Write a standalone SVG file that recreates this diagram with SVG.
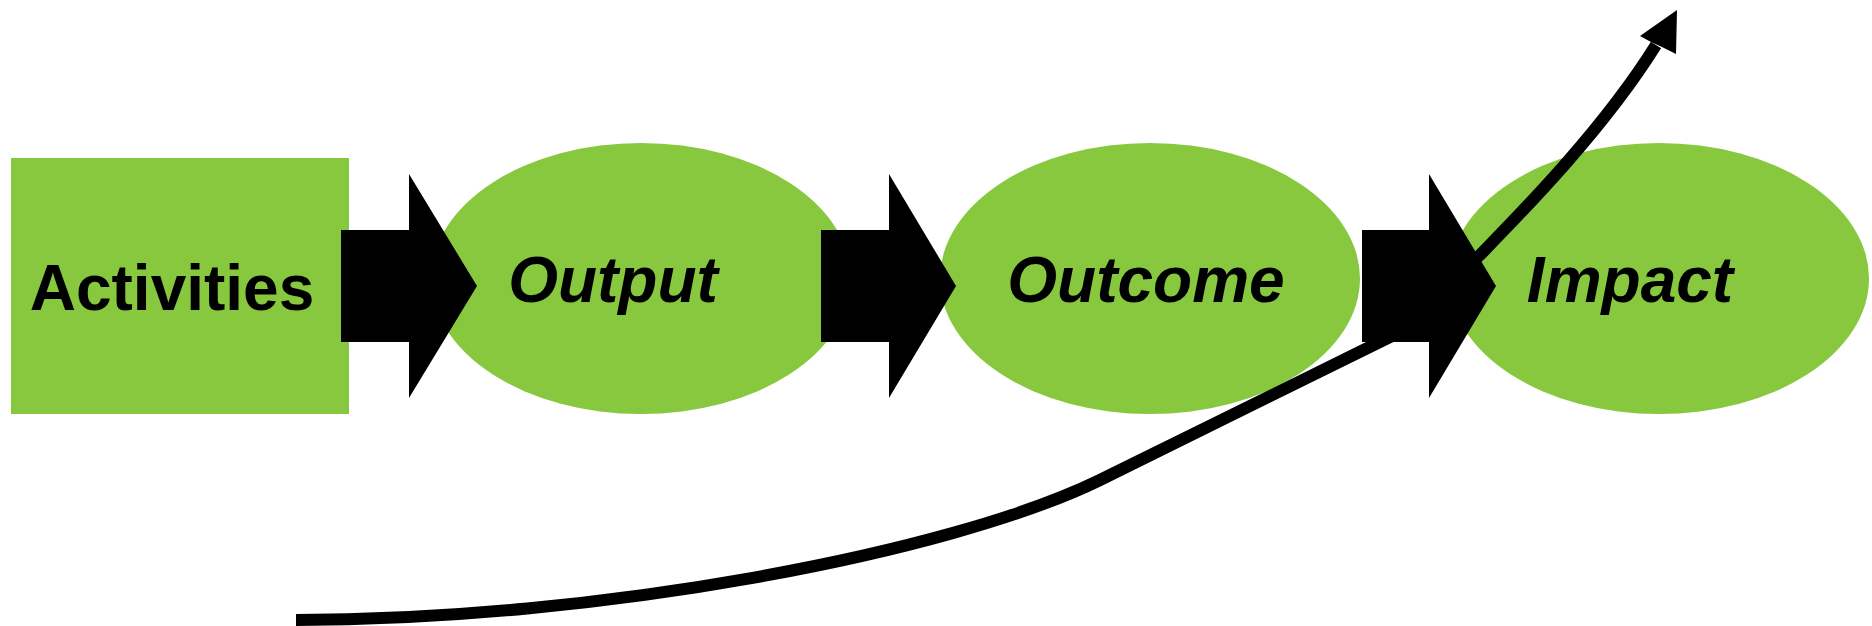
<svg xmlns="http://www.w3.org/2000/svg" width="1872" height="626" viewBox="0 0 1872 626">
<style>
.node{fill:#87C83F}
.lbl{font-family:"Liberation Sans",Arial,sans-serif;font-size:64px;font-weight:bold;fill:#000}
.it{font-style:italic}
.blk{fill:#000}
.conn{fill:none;stroke:#000;stroke-width:12;stroke-linecap:butt;stroke-linejoin:round}
</style>
<rect width="1872" height="626" fill="#fff"/>
<g id="activities">
<rect class="node" x="11" y="158" width="338" height="256"/>
<text class="lbl" x="172" y="310" text-anchor="middle">Activities</text>
</g>
<g id="output">
<ellipse class="node" cx="641" cy="278.5" rx="210" ry="135.5"/>
<text class="lbl it" x="613" y="302" text-anchor="middle">Output</text>
</g>
<g id="outcome">
<ellipse class="node" cx="1150" cy="278.5" rx="210" ry="135.5"/>
<text class="lbl it" x="1146" y="302" text-anchor="middle">Outcome</text>
</g>
<g id="impact">
<ellipse class="node" cx="1659" cy="278.5" rx="210" ry="135.5"/>
<text class="lbl it" x="1630" y="302" text-anchor="middle">Impact</text>
</g>
<g id="connectors">
<polygon class="blk" points="341,230 409,230 409,174 477,286 409,398 409,342 341,342"/>
<polygon class="blk" points="821,230 889,230 889,174 956,286 889,398 889,342 821,342"/>
<polygon class="blk" points="1362,230 1429,230 1429,174 1496,286 1429,398 1429,342 1362,342"/>
<path class="conn" d="M296,620 C596,620 950,553.5 1100,480 L1400,332 L1480,255 C1520,214 1603,130 1656,45"/>
<polygon class="blk" points="1677,10 1640,36 1651,42 1662,47 1676,54"/>
</g>
</svg>
